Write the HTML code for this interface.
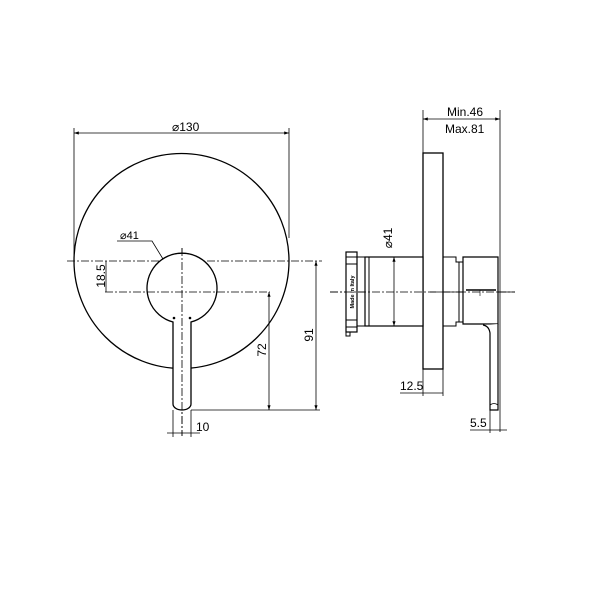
<!DOCTYPE html>
<html><head><meta charset="utf-8"><style>
html,body{margin:0;padding:0;background:#fff;}
svg{display:block;}
text{font-family:"Liberation Sans",Arial,sans-serif;fill:#000;}
</style></head><body>
<svg width="600" height="600" viewBox="0 0 600 600" xmlns="http://www.w3.org/2000/svg">
<defs>
<marker id="a" markerWidth="6" markerHeight="4" refX="6" refY="2" orient="auto-start-reverse"><path d="M0,0 L6,2 L0,4 z" fill="#000"/></marker>
</defs>
<g fill="none" stroke="#000" stroke-width="1">
<!-- LEFT VIEW -->
<circle cx="181.5" cy="261" r="107.5" stroke-width="1.3"/>
<!-- dia 130 -->
<line x1="74" y1="133" x2="289" y2="133" marker-start="url(#a)" marker-end="url(#a)" stroke-width="0.8"/>
<line x1="74" y1="128" x2="74" y2="255" stroke-width="0.8"/>
<line x1="289" y1="128" x2="289" y2="238" stroke-width="0.8"/>
<!-- centerlines -->
<line x1="67" y1="261" x2="322" y2="261" stroke-dasharray="8,2,2,2" stroke-width="0.8"/>
<line x1="105" y1="292" x2="270" y2="292" stroke-dasharray="8,2,2,2" stroke-width="0.8"/>
<line x1="182" y1="248" x2="182" y2="436" stroke-dasharray="8,2,2,2" stroke-width="0.8"/>
<!-- handle -->
<path d="M173,322 A35,35 0 1 1 191,322 L191,404 A9,6 0 0 1 173,404 Z" stroke-width="1.3" fill="#fff"/>
<line x1="182" y1="248" x2="182" y2="436" stroke-dasharray="8,2,2,2" stroke-width="0.8"/>
<line x1="147" y1="292" x2="217" y2="292" stroke-dasharray="8,2,2,2" stroke-width="0.8"/>
<circle cx="174" cy="318" r="1.3" fill="#000" stroke="none"/>
<circle cx="190" cy="318" r="1.3" fill="#000" stroke="none"/>
<!-- dia41 leader -->
<polyline points="117,241 152,241 163,259" stroke-width="0.8"/>
<!-- 18.5 -->
<line x1="106" y1="261" x2="106" y2="292" stroke-width="0.8"/>
<!-- 72 -->
<line x1="269" y1="292" x2="269" y2="410" stroke-width="0.8" marker-start="url(#a)" marker-end="url(#a)"/>
<!-- 91 -->
<line x1="316" y1="261" x2="316" y2="410" stroke-width="0.8" marker-start="url(#a)" marker-end="url(#a)"/>
<line x1="191" y1="410" x2="320" y2="410" stroke-width="0.8"/>
<!-- 10 -->
<line x1="173" y1="410" x2="173" y2="437" stroke-width="0.8"/>
<line x1="191" y1="410" x2="191" y2="437" stroke-width="0.8"/>
<line x1="167" y1="433" x2="200" y2="433" stroke-width="0.8"/>

<!-- RIGHT VIEW -->
<line x1="330" y1="292" x2="515" y2="292" stroke-dasharray="8,2,2,2" stroke-width="0.8"/>
<rect x="423" y="153" width="20" height="216" stroke-width="1.3" fill="#fff"/>
<rect x="365" y="257" width="58" height="69" stroke-width="1.2" fill="#fff"/>
<line x1="369" y1="257" x2="369" y2="326"/>
<rect x="346" y="252" width="11" height="80" stroke-width="1.2" fill="#fff"/>
<rect x="346" y="332" width="4" height="4"/>
<line x1="346" y1="257" x2="357" y2="257"/>
<line x1="346" y1="264" x2="357" y2="264"/>
<line x1="346" y1="320" x2="357" y2="320"/>
<line x1="346" y1="327" x2="357" y2="327"/>
<line x1="357" y1="257" x2="365" y2="257"/>
<line x1="357" y1="326" x2="365" y2="326"/>
<line x1="330" y1="292" x2="515" y2="292" stroke-dasharray="8,2,2,2" stroke-width="0.8"/>
<!-- right body -->
<path d="M443,257 L456,257 L456,262 L459,262 L459,322 L456,322 L456,326 L443,326" stroke-width="1"/>
<rect x="459" y="262" width="4" height="60"/>
<path d="M463,257 L498,257 L498,324 L463,324 Z" stroke-width="1.2" fill="#fff"/>
<line x1="430" y1="292" x2="515" y2="292" stroke-dasharray="8,2,2,2" stroke-width="0.8"/>
<path d="M483,325 Q489,326 490,333 L490,410 L498,410 L498,324" stroke-width="1.2" fill="#fff"/>
<path d="M490,405 Q494,402 498,405" stroke-width="0.8"/>
<line x1="466" y1="290" x2="496" y2="290" stroke-width="1.5"/>
<line x1="480" y1="290" x2="480" y2="296" stroke-width="0.6"/>
<!-- dims right -->
<line x1="423" y1="110" x2="423" y2="153" stroke-width="0.8"/>
<line x1="500" y1="110" x2="500" y2="432" stroke-width="0.8"/>
<line x1="423" y1="119" x2="500" y2="119" stroke-width="0.8" marker-start="url(#a)" marker-end="url(#a)"/>
<line x1="394" y1="257" x2="394" y2="326" stroke-width="0.8" marker-start="url(#a)" marker-end="url(#a)"/>
<line x1="443" y1="369" x2="443" y2="396" stroke-width="0.8"/>
<line x1="423" y1="369" x2="423" y2="396" stroke-width="0.8"/>
<line x1="400" y1="393" x2="443" y2="393" stroke-width="0.8"/>
<line x1="490" y1="410" x2="490" y2="433" stroke-width="0.8"/>
<line x1="470" y1="430" x2="507" y2="430" stroke-width="0.8"/>
</g>
<text x="172" y="131" font-size="12">⌀130</text>
<text x="120" y="239" font-size="11">⌀41</text>
<text transform="translate(105,276) rotate(-90)" font-size="12" text-anchor="middle">18.5</text>
<text transform="translate(266,350) rotate(-90)" font-size="12" text-anchor="middle">72</text>
<text transform="translate(313,335) rotate(-90)" font-size="12" text-anchor="middle">91</text>
<text x="196" y="431" font-size="12">10</text>
<text x="447" y="116" font-size="12">Min.46</text>
<text x="445" y="133" font-size="12">Max.81</text>
<text transform="translate(392,238) rotate(-90)" font-size="12" text-anchor="middle">⌀41</text>
<text x="400" y="390" font-size="12">12.5</text>
<text x="470" y="427" font-size="12">5.5</text>
<text transform="translate(354,292) rotate(-90)" font-size="5.5" font-weight="bold" text-anchor="middle">Made in Italy</text>
</svg>
</body></html>
